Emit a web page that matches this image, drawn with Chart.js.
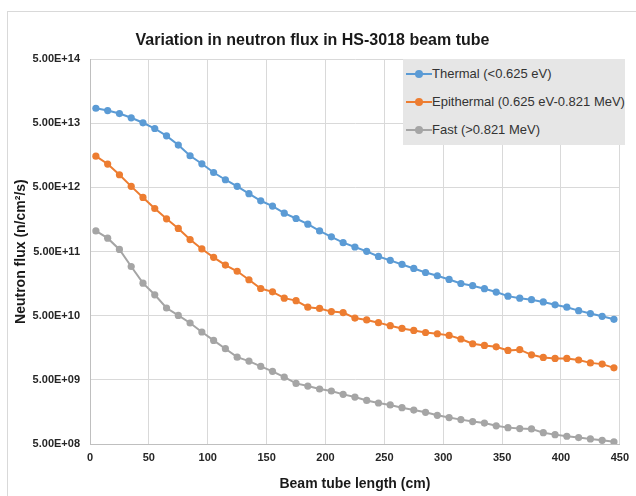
<html>
<head>
<title>Neutron flux in HS-3018 beam tube</title>
<script src="https://cdn.jsdelivr.net/npm/chart.js"></script>
<style>
  body { margin: 0; background: #fff; font-family: "Liberation Sans", Arial, sans-serif; }
  #wrap { position: relative; width: 636px; height: 496px; overflow: hidden; }
  #frame { position: absolute; left: 7px; top: 11px; width: 700px; height: 600px; border: 1px solid #d9d9d9; box-sizing: border-box; }
  #myChart { position: absolute; left: 0; top: 0; }
  #legend { position: absolute; left: 403px; top: 59px; width: 222px; height: 86px; background: #e6e6e6; }
  .item { position: absolute; left: 3px; height: 20px; line-height: 20px; font-size: 13px; color: #333; white-space: nowrap; }
  .item .sw { display: inline-block; position: relative; width: 26px; height: 20px; vertical-align: top; }
  .item .sw i { position: absolute; left: 0; right: 0; top: 9px; height: 2px; }
  .item .sw b { position: absolute; left: 9px; top: 6px; width: 8px; height: 8px; border-radius: 50%; }
</style>
</head>
<body>
<div id="wrap">
  <div id="frame"></div>
  <canvas id="myChart" width="636" height="496"></canvas>
  <div id="legend"></div>
</div>
<script>
// beam tube length (cm)
const lengths = [5, 15, 25, 35, 45, 55, 65, 75, 85, 95, 105, 115, 125, 135, 145, 155, 165, 175, 185, 195,
  205, 215, 225, 235, 245, 255, 265, 275, 285, 295, 305, 315, 325, 335, 345, 355, 365, 375, 385, 395,
  405, 415, 425, 435, 445];

const thermal = [8.6e13, 7.9e13, 7.1e13, 6.1e13, 5.1e13, 4.15e13, 3.19e13, 2.29e13, 1.56e13, 1.17e13,
  8.55e12, 6.6e12, 5.2e12, 4.0e12, 3.1e12, 2.56e12, 1.99e12, 1.64e12, 1.34e12, 1.05e12,
  8.5e11, 6.9e11, 5.9e11, 5.05e11, 4.2e11, 3.65e11, 3.15e11, 2.73e11, 2.36e11, 2.1e11,
  1.84e11, 1.59e11, 1.47e11, 1.32e11, 1.17e11, 1.01e11, 9.4e10, 8.9e10, 8.2e10, 7.4e10,
  6.8e10, 6.0e10, 5.4e10, 4.9e10, 4.4e10];

const epithermal = [1.54e13, 1.16e13, 7.9e12, 5.2e12, 3.5e12, 2.35e12, 1.62e12, 1.15e12, 7.7e11, 5.5e11,
  4.07e11, 3.08e11, 2.47e11, 1.82e11, 1.33e11, 1.18e11, 9.4e10, 8.6e10, 6.8e10, 6.5e10,
  5.8e10, 5.6e10, 4.6e10, 4.3e10, 3.9e10, 3.5e10, 3.17e10, 2.95e10, 2.74e10, 2.62e10,
  2.47e10, 2.17e10, 1.83e10, 1.72e10, 1.64e10, 1.44e10, 1.48e10, 1.23e10, 1.12e10, 1.08e10,
  1.08e10, 1.02e10, 9.2e9, 8.8e9, 7.7e9];

const fast = [1.05e12, 8.1e11, 5.4e11, 2.93e11, 1.61e11, 1.06e11, 6.6e10, 5.05e10, 3.85e10, 2.79e10,
  2.06e10, 1.53e10, 1.13e10, 9.8e9, 8.1e9, 6.8e9, 5.5e9, 4.4e9, 4.0e9, 3.6e9,
  3.35e9, 2.97e9, 2.7e9, 2.39e9, 2.18e9, 2.03e9, 1.84e9, 1.69e9, 1.56e9, 1.40e9,
  1.29e9, 1.20e9, 1.12e9, 1.06e9, 9.6e8, 9.0e8, 8.7e8, 8.6e8, 7.5e8, 7.0e8,
  6.6e8, 6.3e8, 6.0e8, 5.7e8, 5.4e8];

const seriesNames = ['Thermal (<0.625 eV)', 'Epithermal (0.625 eV-0.821 MeV)', 'Fast (>0.821 MeV)'];
const seriesColors = ['#5b9bd5', '#ed7d31', '#a5a5a5'];

const yTickValues = [5e8, 5e9, 5e10, 5e11, 5e12, 5e13, 5e14];
const yTickLabels = ['5.00E+08', '5.00E+09', '5.00E+10', '5.00E+11', '5.00E+12', '5.00E+13', '5.00E+14'];
const xTickStep = 50;

function toPoints(vals) {
  var pts = [];
  for (var i = 0; i < lengths.length; i++) {
    pts.push({ x: lengths[i], y: vals[i] });
  }
  return pts;
}

const allSeries = [thermal, epithermal, fast];
const datasets = allSeries.map(function (vals, k) {
  return {
    label: seriesNames[k],
    data: toPoints(vals),
    borderColor: seriesColors[k],
    backgroundColor: seriesColors[k],
    borderWidth: 2,
    pointRadius: 3.6,
    pointBorderWidth: 0,
    tension: 0
  };
});

// legend box in the top right corner of the plot
var legend = document.getElementById('legend');
var rowTops = [5, 33, 61];
for (var k = 0; k < seriesNames.length; k++) {
  var row = document.createElement('div');
  row.className = 'item';
  row.style.top = rowTops[k] + 'px';
  row.innerHTML = '<span class="sw"><i style="background:' + seriesColors[k] + '"></i><b style="background:' +
    seriesColors[k] + '"></b></span>';
  row.appendChild(document.createTextNode(seriesNames[k]));
  legend.appendChild(row);
}

const tickFont = { family: '"Liberation Sans", Arial, sans-serif', size: 11, weight: 'bold' };
const axisTitleFont = { family: '"Liberation Sans", Arial, sans-serif', size: 14, weight: 'bold' };

var ctx = document.getElementById('myChart').getContext('2d');
var myChart = new Chart(ctx, {
  type: 'line',
  data: { datasets: datasets },
  options: {
    responsive: false,
    animation: false,
    events: [],
    layout: { padding: { left: 0, right: 11, top: 0, bottom: 0 } },
    plugins: {
      legend: { display: false },
      tooltip: { enabled: false },
      title: {
        display: true,
        text: 'Variation in neutron flux in HS-3018 beam tube',
        color: '#1a1a1a',
        font: { family: '"Liberation Sans", Arial, sans-serif', size: 16, weight: 'bold' },
        padding: { top: 31, bottom: 9 }
      }
    },
    scales: {
      x: {
        type: 'linear',
        min: 0,
        max: 450,
        ticks: { stepSize: xTickStep, color: '#262626', font: tickFont, padding: 7, maxRotation: 0 },
        grid: { color: '#d9d9d9', lineWidth: 1, drawTicks: false },
        border: { color: '#bfbfbf' },
        title: {
          display: true,
          text: 'Beam tube length (cm)',
          color: '#1a1a1a',
          font: axisTitleFont,
          padding: { top: 0, bottom: 3 }
        },
        afterFit: function (scale) { scale.height = 52; }
      },
      y: {
        type: 'logarithmic',
        min: 5e8,
        max: 5e14,
        afterBuildTicks: function (scale) {
          scale.ticks = yTickValues.map(function (v) { return { value: v }; });
        },
        ticks: {
          color: '#262626',
          font: tickFont,
          padding: 10,
          callback: function (v) {
            var i = yTickValues.indexOf(v);
            return i >= 0 ? yTickLabels[i] : '';
          }
        },
        grid: { color: '#d9d9d9', lineWidth: 1, drawTicks: false },
        border: { color: '#bfbfbf' },
        title: {
          display: true,
          text: 'Neutron flux (n/cm²/s)',
          color: '#1a1a1a',
          font: axisTitleFont,
          padding: { top: 13, bottom: 0 }
        },
        afterFit: function (scale) { scale.width = 90; }
      }
    }
  }
});
</script>
</body>
</html>
